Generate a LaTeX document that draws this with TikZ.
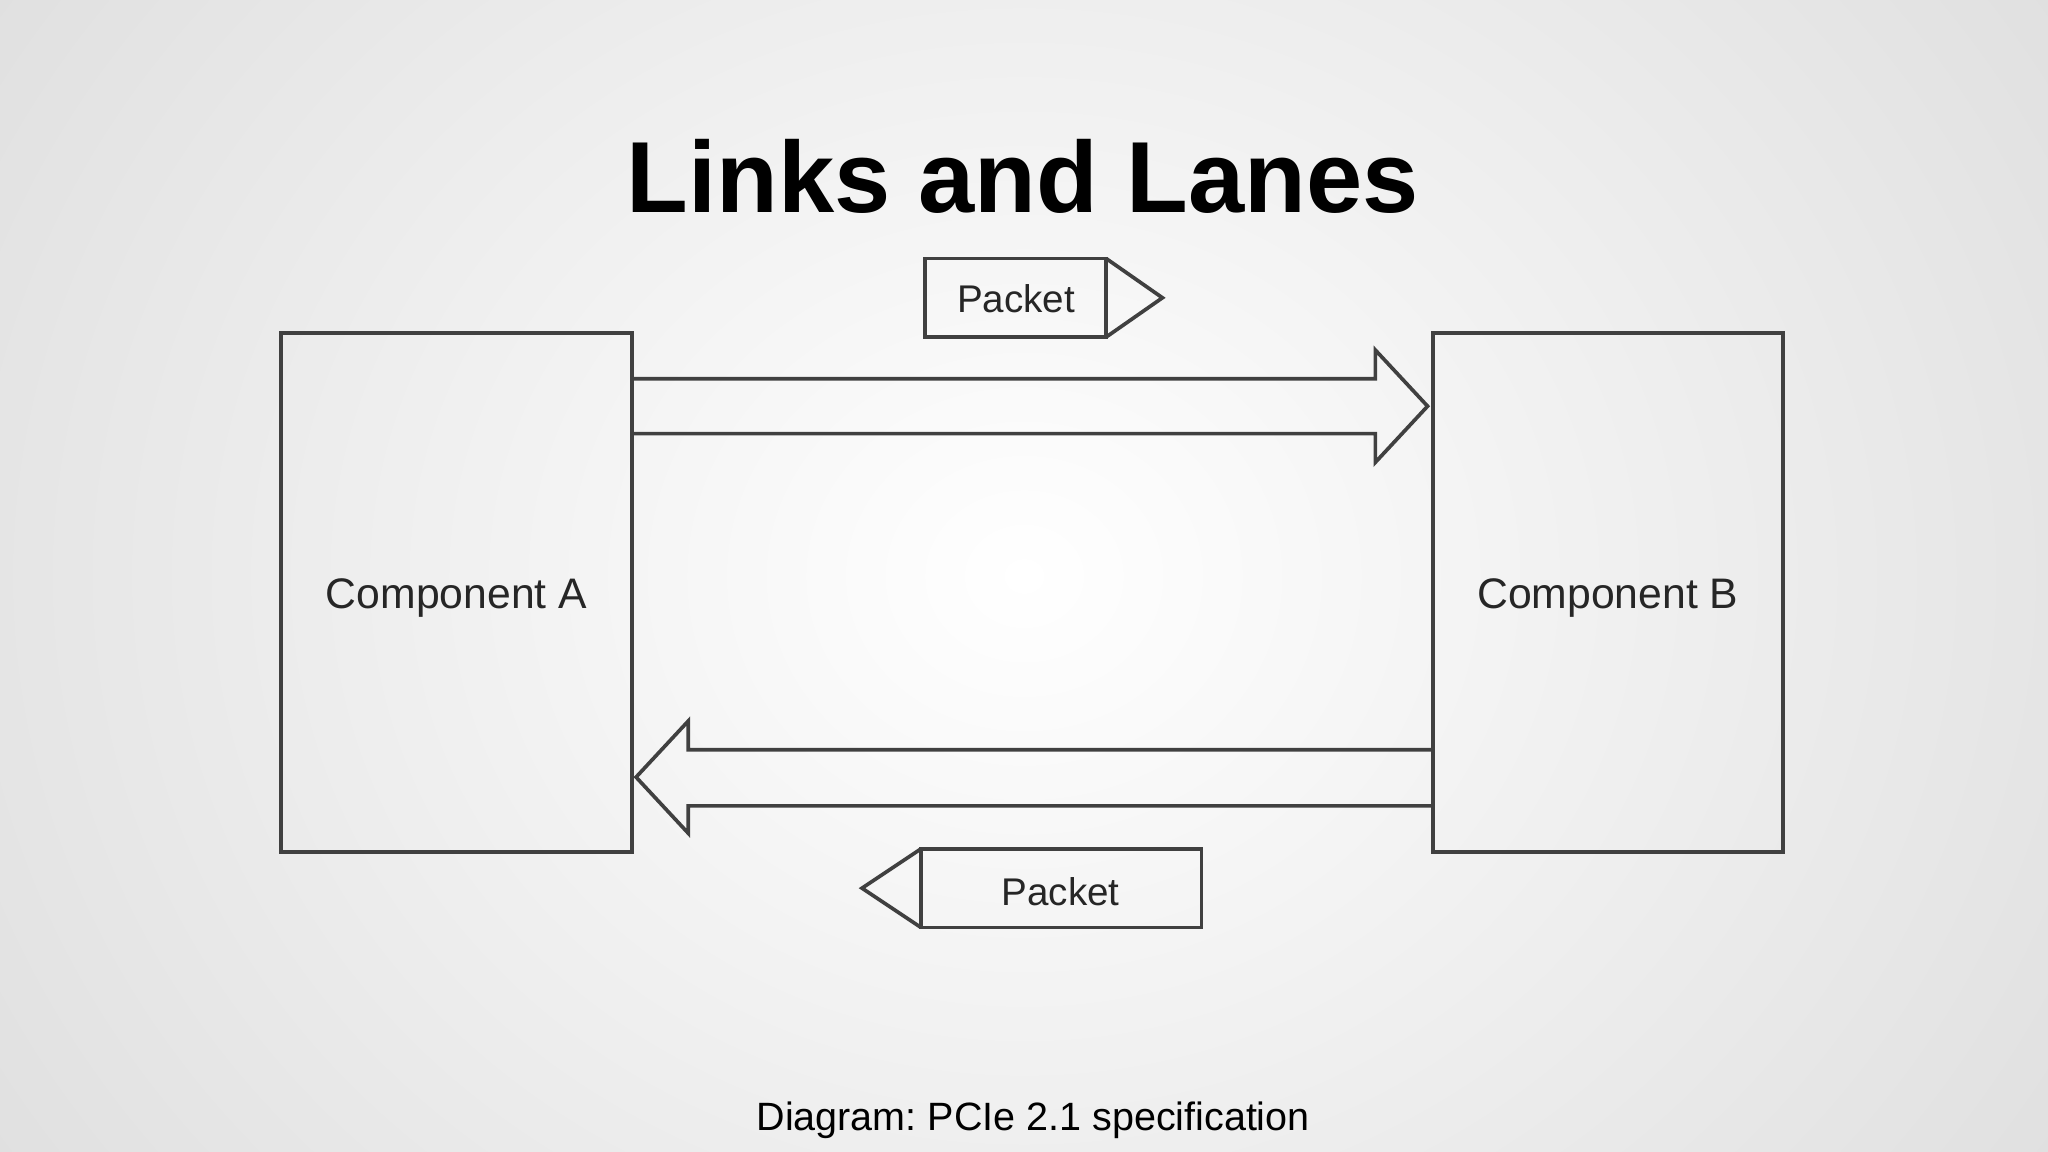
\documentclass[tikz,border=0pt]{standalone}
\usepackage{fontspec}
\setmainfont{Liberation Sans}
\frenchspacing
\begin{document}
\begin{tikzpicture}[x=0.01cm,y=-0.01cm,
  ln/.style={draw=black!75,line width=0.8pt,line join=miter},
  comp/.style={ln,inner sep=0pt,font=\fontsize{9.3}{11}\selectfont\color{black!85}},
  pk/.style={font=\fontsize{8.4}{10}\selectfont\color{black!85}}]
\useasboundingbox (0,0) rectangle (1568,882);
\shade[inner color=white,outer color=black!14] (-300,-500) rectangle (1868,1382);
\node[font=\bfseries\fontsize{22}{26}\selectfont] (title) at (783,135) {Links and Lanes};
\node[ln,minimum width=2.69cm,minimum height=3.97cm] (A) at (349.5,453.5) {};
\node[ln,minimum width=2.68cm,minimum height=3.97cm] (B) at (1231,453.5) {};
\node[comp,draw=none] (la) at (349.5,458) {Component A};
\node[comp,draw=none] (lb) at (1231,458) {Component B};
% top arrow
\draw[ln] (484,290) -- (1053,290) -- (1053,268) -- (1093,311) -- (1053,354) -- (1053,332) -- (484,332);
% bottom arrow
\draw[ln] (1097,574) -- (527,574) -- (527,552) -- (487,595) -- (527,638) -- (527,617) -- (1097,617);
% top packet
\draw[ln] (708,198) rectangle (847,258);
\draw[ln] (847,198) -- (890,228) -- (847,258);
\node[pk] (p1) at (778,229) {Packet};
% bottom packet
\draw[ln] (705,650) rectangle (920,710);
\draw[ln] (705,650) -- (660,680) -- (705,710);
\node[pk] (p2) at (812,683) {Packet};
\node[font=\fontsize{8.6}{10}\selectfont] (cap) at (791,858) {Diagram: PCIe 2.1 specification};
\end{tikzpicture}
\end{document}
